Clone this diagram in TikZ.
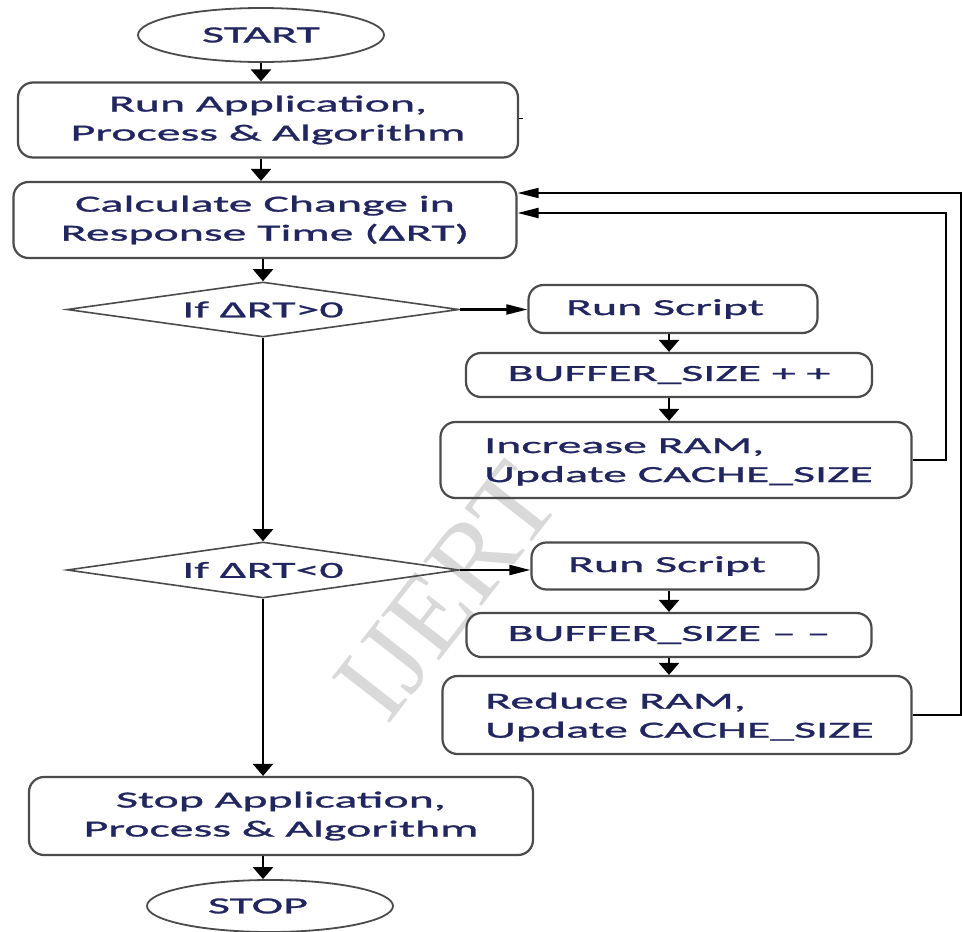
\documentclass[tikz,border=0pt]{standalone}
\usepackage{fontspec}
\setmainfont{Carlito}
\newfontfamily\wfont[FakeStretch=2.08,FakeBold=1.2]{Carlito}
\newfontfamily\wmfont{Liberation Serif}
\usetikzlibrary{shapes.geometric,arrows.meta}
\definecolor{ink}{RGB}{34,38,96}
\definecolor{edge}{RGB}{75,75,75}

\tikzset{
  base/.style={draw=edge, line width=2.2pt, text=ink, align=center, inner sep=0pt,
    font=\wfont\fontsize{23}{29}\selectfont},
  txt/.style={text=ink, inner sep=0pt, font=\wfont\fontsize{23}{29}\selectfont},
  box/.style={base, rectangle, rounded corners=15pt},
  term/.style={base, ellipse, line width=1.8pt},
  dec/.style={base, diamond, shape aspect=7, line width=1.6pt},
  varr/.style={-{Triangle[length=12pt,width=20pt]}, line width=2.4pt},
  harr/.style={-{Triangle[length=21pt,width=10pt]}, line width=2.2pt},
  wire/.style={line width=2.2pt}
}

\begin{document}
\begin{tikzpicture}[x=1pt,y=-1pt]
  \path[use as bounding box, fill=white] (0,0) rectangle (962,932);

  % faint publisher mark
  \node[rotate=52, text=black!15, font=\wmfont\fontsize{112}{112}\selectfont] (mark) at (447,592) {IJERT};

  % main column
  \node[term, minimum width=246, minimum height=54] (start) at (261,35) {START};
  \node[box, minimum width=500, minimum height=75] (runapp) at (268,120)
    {Run Application,\\Process \& Algorithm};
  \node[box, minimum width=503, minimum height=76] (calc) at (265,220)
    {Calculate Change in\\Response Time (ΔRT)};
  \node[dec, minimum width=392, minimum height=55] (d1) at (263,309.5) {If ΔRT>0};
  \node[dec, minimum width=392, minimum height=56] (d2) at (263,570) {If ΔRT<0};
  \node[box, minimum width=504, minimum height=78] (stopb) at (281,816)
    {Stop Application,\\Process \& Algorithm};
  \node[term, minimum width=246, minimum height=52] (stop) at (270,906) {};
  \node[txt] (stopt) at (258,906) {STOP};

  % increase branch
  \node[box, minimum width=289, minimum height=48] (rs1) at (673,309) {};
  \node[txt] (rs1t) at (665,309) {Run Script};
  \node[box, minimum width=406, minimum height=44] (buf1) at (669,375) {BUFFER\_SIZE + +};
  \node[box, minimum width=471, minimum height=76] (inc) at (676,460) {};
  \node[txt, anchor=west, align=left] (inct) at (484,462) {Increase RAM,\\Update CACHE\_SIZE};

  % decrease branch
  \node[box, minimum width=287, minimum height=47] (rs2) at (675,566) {};
  \node[txt] (rs2t) at (667,566) {Run Script};
  \node[box, minimum width=405, minimum height=44] (buf2) at (669,635) {BUFFER\_SIZE – –};
  \node[box, minimum width=469, minimum height=78] (red) at (677,715) {};
  \node[txt, anchor=west, align=left] (redt) at (485,717) {Reduce RAM,\\Update CACHE\_SIZE};

  % loop-back corners
  \coordinate (in1) at (946,213);
  \coordinate (in2) at (961,193);
  \coordinate (stub) at (523,118);

  % connectors
  \draw[varr] (start.south) -- (start.south |- runapp.north);
  \draw[varr] (runapp.south -| start.south) -- (calc.north -| start.south);
  \draw[varr] (calc.south -| d1.north) -- (d1.north);
  \draw[harr] (d1.east) -- (d1.east -| rs1.west);
  \draw[varr] (buf1.north |- rs1.south) -- (buf1.north);
  \draw[varr] (buf1.south) -- (buf1.south |- inc.north);
  \draw[varr] (d1.south) -- (d2.north);
  \draw[harr] (d2.east) -- (d2.east -| rs2.west);
  \draw[varr] (buf2.north |- rs2.south) -- (buf2.north);
  \draw[varr] (buf2.south) -- (buf2.south |- red.north);
  \draw[varr] (d2.south) -- (d2.south |- stopb.north);
  \draw[varr] (stopb.south -| d2.south) -- (stop.north -| d2.south);
  \draw[harr] (inc.east) -| (in1) -- (calc.east |- in1);
  \draw[harr, line width=1.6pt] (red.east) -| (in2) -- (calc.east |- in2);
  \draw[line width=1pt] (runapp.east |- stub) -- (stub);
\end{tikzpicture}
\end{document}
